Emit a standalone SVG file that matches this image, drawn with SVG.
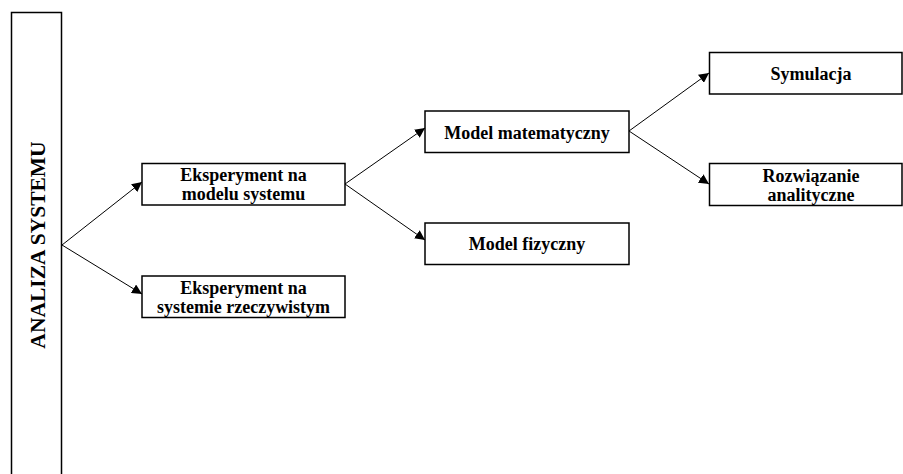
<svg xmlns="http://www.w3.org/2000/svg" width="903" height="474" viewBox="0 0 903 474">
<defs>
<marker id="arr" viewBox="0 0 10 10" refX="10" refY="5" markerWidth="10" markerHeight="10" markerUnits="userSpaceOnUse" orient="auto">
<path d="M0,0 L10,5 L0,10 z" fill="#000"/>
</marker>
</defs>
<style>
.box{fill:#fff;stroke:#000;stroke-width:1.5}
.t{font-family:"Liberation Serif","Times New Roman",serif;font-weight:bold;font-size:18px;fill:#000;text-anchor:middle}
.c{stroke:#000;stroke-width:1;fill:none;marker-end:url(#arr)}
</style>
<rect width="903" height="474" fill="#fff"/>
<g id="analiza">
<rect class="box" x="11.5" y="12.5" width="50" height="470"/>
<text class="t" transform="translate(45,245) rotate(-90)" style="font-size:21.5px">ANALIZA SYSTEMU</text>
</g>
<g id="eksp-model">
<rect class="box" x="142" y="163.5" width="203" height="41.5"/>
<text class="t" x="243.5" y="181">Eksperyment na</text>
<text class="t" x="243.5" y="200">modelu systemu</text>
</g>
<g id="eksp-system">
<rect class="box" x="142" y="276" width="203" height="41.5"/>
<text class="t" x="243.5" y="293.5">Eksperyment na</text>
<text class="t" x="243.5" y="312.5" textLength="173" lengthAdjust="spacingAndGlyphs">systemie rzeczywistym</text>
</g>
<g id="model-mat">
<rect class="box" x="425" y="111" width="204" height="41.5"/>
<text class="t" x="527" y="139">Model matematyczny</text>
</g>
<g id="model-fiz">
<rect class="box" x="425" y="223" width="204" height="41.5"/>
<text class="t" x="527" y="250">Model fizyczny</text>
</g>
<g id="symulacja">
<rect class="box" x="709.5" y="52.5" width="192.5" height="41.5"/>
<text class="t" x="811" y="80">Symulacja</text>
</g>
<g id="rozwiazanie">
<rect class="box" x="709.5" y="163.5" width="192.5" height="42"/>
<text class="t" x="811" y="181.5">Rozwiązanie</text>
<text class="t" x="811" y="200.5">analityczne</text>
</g>
<g id="connectors">
<line class="c" x1="62" y1="245" x2="142" y2="182"/>
<line class="c" x1="62" y1="245" x2="142" y2="294"/>
<line class="c" x1="345" y1="184" x2="425" y2="128"/>
<line class="c" x1="345" y1="184" x2="425" y2="240"/>
<line class="c" x1="629" y1="131" x2="709" y2="73"/>
<line class="c" x1="629" y1="131" x2="709" y2="184"/>
</g>
</svg>
